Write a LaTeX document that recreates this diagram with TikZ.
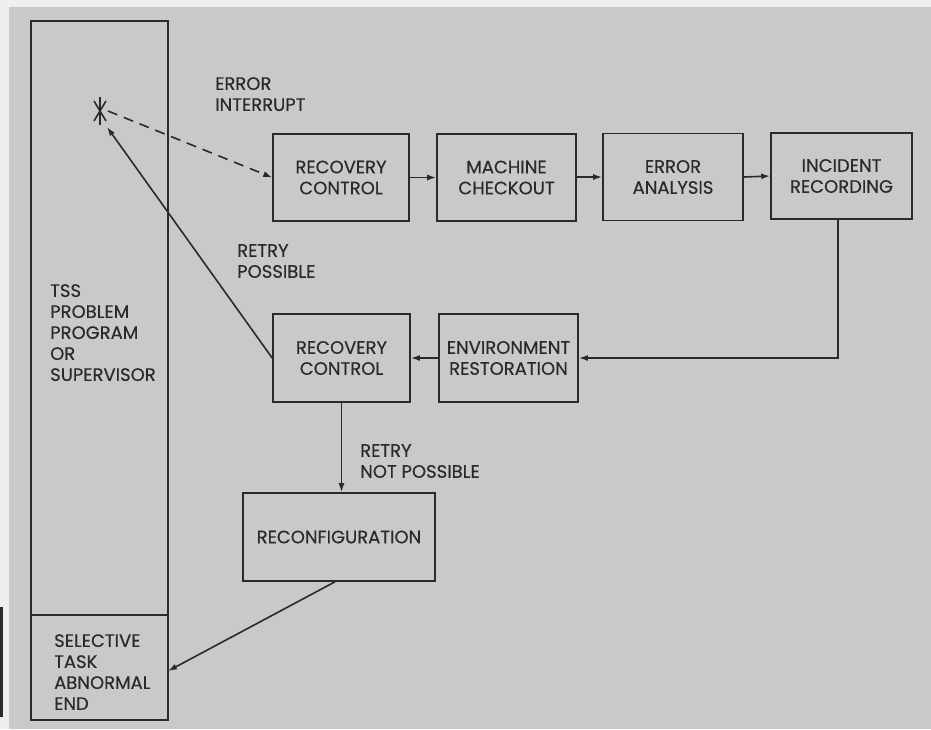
\documentclass[tikz,border=0pt]{standalone}
\usepackage{fontspec}
\setmainfont{Poppins}[FakeBold=0.4]
\usetikzlibrary{arrows.meta}
\definecolor{bg}{HTML}{C9C9C9}
\definecolor{ink}{HTML}{2A2A2A}
\definecolor{paper}{HTML}{EFEFEF}
\tikzset{
  box/.style={draw=ink, line width=1.6pt, text=ink, align=center, inner sep=0pt,
    font=\fontsize{18}{21}\selectfont},
  lbl/.style={text=ink, align=left, inner sep=0pt, anchor=north west,
    font=\fontsize{18}{21}\selectfont},
  conn/.style={draw=ink, line width=1.6pt, -{Latex[length=9pt,width=6pt]}},
}
\begin{document}
\begin{tikzpicture}[x=1pt,y=-1pt]
\useasboundingbox (0,0) rectangle (931,729);
\fill[paper] (0,0) rectangle (931,729);
\fill[bg] (9,7) rectangle (931,729);
\fill[ink] (0,607) rectangle (3,717);
% left column
\draw[ink, line width=1.6pt] (31,21) rectangle (168,720);
\draw[ink, line width=1.6pt] (31,615) -- (168,615);
\node[lbl] (tss) at (50,284) {TSS\\PROBLEM\\PROGRAM\\OR\\SUPERVISOR};
\node[lbl] (sel) at (54,634) {SELECTIVE\\TASK\\ABNORMAL\\END};
\coordinate (selin) at (168,671);
% star
\coordinate (star) at (100,111);
\draw[ink, line width=1.6pt] (100,97) -- (100,125);
\draw[ink, line width=1.6pt] (94,101) -- (106,121);
\draw[ink, line width=1.6pt] (106,101) -- (94,121);
\coordinate (starout) at (108,111);
\coordinate (starin) at (107,127);
% boxes
\node[box, minimum width=136pt, minimum height=87pt] (rc1) at (341,177.5) {RECOVERY\\CONTROL};
\node[box, minimum width=139pt, minimum height=87pt] (mc) at (506.5,177.5) {MACHINE\\CHECKOUT};
\node[box, minimum width=140pt, minimum height=87pt] (ea) at (673,177) {ERROR\\ANALYSIS};
\node[box, minimum width=141pt, minimum height=86pt] (ir) at (841.5,176) {INCIDENT\\RECORDING};
\node[box, minimum width=137pt, minimum height=88pt] (rc2) at (341.5,358) {RECOVERY\\CONTROL};
\node[box, minimum width=139pt, minimum height=88pt] (er) at (508.5,358) {ENVIRONMENT\\RESTORATION};
\node[box, minimum width=192pt, minimum height=88pt] (rcf) at (339,537) {RECONFIGURATION};
% labels
\node[lbl] (l1) at (215,77) {ERROR\\INTERRUPT};
\node[lbl] (l2) at (237,244) {RETRY\\POSSIBLE};
\node[lbl] (l3) at (360,444) {RETRY\\NOT POSSIBLE};
% connectors
\draw[conn, dash pattern=on 10pt off 7pt] (starout) -- (rc1.west);
\draw[conn] (rc1.east) -- (mc.west);
\draw[conn] (mc.east |- ea.west) -- (ea.west);
\draw[conn] (ea.east) -- (ir.west);
\draw[conn] (ir.south -| 838,0) |- (er.east);
\draw[conn] (er.west) -- (rc2.east);
\draw[conn] (rc2.west) -- (starin);
\draw[conn] (rc2.south) -- (rcf.north -| rc2.south);
\draw[conn] (rcf.south -| 335,0) -- (selin);
\end{tikzpicture}
\end{document}
